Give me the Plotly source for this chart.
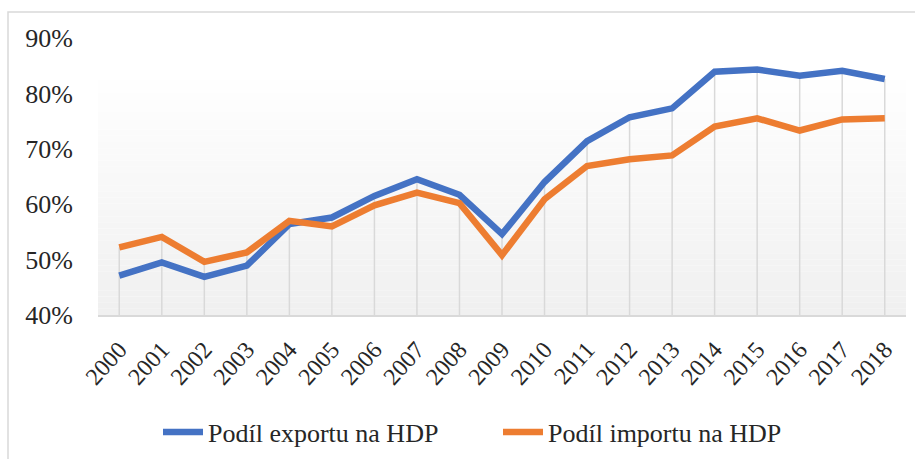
import plotly.graph_objects as go

years = [str(y) for y in range(2000, 2019)]
export_share = [0.471, 0.495, 0.469, 0.489, 0.564, 0.576, 0.615, 0.645, 0.617, 0.546, 0.640,
                0.714, 0.757, 0.773, 0.839, 0.843, 0.832, 0.841, 0.826]
import_share = [0.522, 0.541, 0.496, 0.513, 0.570, 0.560, 0.598, 0.621, 0.602, 0.508, 0.609,
                0.669, 0.681, 0.688, 0.740, 0.755, 0.733, 0.753, 0.755]
series_names = ["Podíl exportu na HDP", "Podíl importu na HDP"]
y_ticks = [0.4, 0.5, 0.6, 0.7, 0.8, 0.9]

W, H = 915, 459
L, R, T, B = 98, 9, 38, 144
font_fam = "Liberation Serif"

fig = go.Figure()

# drop lines from the highest series value down to the axis
dx, dy = [], []
for i, yr in enumerate(years):
    dx += [yr, yr, None]
    dy += [y_ticks[0], max(export_share[i], import_share[i]), None]
fig.add_trace(go.Scatter(x=dx, y=dy, mode="lines", line=dict(color="#d9d9d9", width=1.5),
                         showlegend=False, hoverinfo="skip"))

fig.add_trace(go.Scatter(x=years, y=export_share, name=series_names[0], mode="lines",
                         line=dict(color="#4472C4", width=6.5)))
fig.add_trace(go.Scatter(x=years, y=import_share, name=series_names[1], mode="lines",
                         line=dict(color="#ED7D31", width=6.5)))

# gradient plot-area background as bands
shapes = []
n = 40
top, bot = 0.846, 0.40
for k in range(n):
    y0 = bot + (top - bot) * k / n
    y1 = bot + (top - bot) * (k + 1) / n
    t = k / (n - 1)
    c = int(round(240 + (255 - 240) * t))
    shapes.append(dict(type="rect", xref="paper", yref="y", x0=0, x1=1, y0=y0, y1=y1,
                       fillcolor=f"rgb({c},{c},{c})", line=dict(width=0), layer="below"))
# outer border (extends past right/bottom edge)
pw, ph = W - L - R, H - T - B
def px_x(p): return (p - L) / pw
def px_y(p): return (H - B - p) / ph
shapes.append(dict(type="rect", xref="paper", yref="paper",
                   x0=px_x(8), x1=px_x(930), y0=px_y(12), y1=px_y(480),
                   line=dict(color="#d9d9d9", width=1.5), fillcolor="rgba(0,0,0,0)", layer="below"))

fig.update_layout(
    width=W, height=H,
    margin=dict(l=L, r=R, t=T, b=B, autoexpand=False),
    paper_bgcolor="white", plot_bgcolor="white",
    shapes=shapes,
    font=dict(family=font_fam, color="#262626"),
    legend=dict(orientation="h", x=px_x(158), xanchor="left", y=px_y(432), yanchor="middle",
                font=dict(size=26, family=font_fam, color="#262626"),
                entrywidth=285, entrywidthmode="pixels",
                itemwidth=40, tracegroupgap=0, bgcolor="rgba(0,0,0,0)"),
)
fig.update_xaxes(type="category", range=[-0.5, len(years) - 0.5], showgrid=False,
                 showline=True, linecolor="#d9d9d9", linewidth=2, ticks="",
                 tickangle=-48, tickfont=dict(size=24, family=font_fam, color="#262626"),
                 ticklabelstandoff=9, zeroline=False, automargin=False)
fig.update_yaxes(range=[0.40, 0.90], tickvals=y_ticks, tickformat=".0%", showgrid=False,
                 zeroline=False, showline=False, ticks="",
                 tickfont=dict(size=26, family=font_fam, color="#262626"),
                 ticklabelstandoff=24, automargin=False)

fig.write_html("out.html", config={"displayModeBar": False},
               post_script="document.body.style.margin='0px';")
